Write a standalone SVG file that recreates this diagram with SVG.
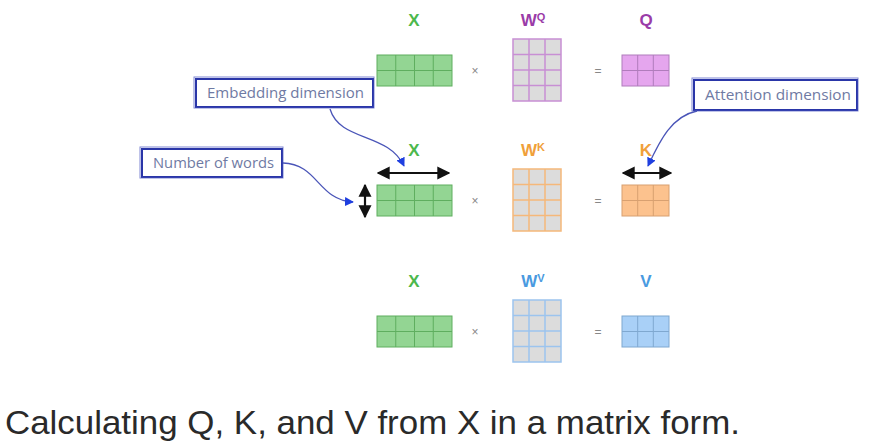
<svg xmlns="http://www.w3.org/2000/svg" width="881" height="444" viewBox="0 0 881 444">
<style>
.lbl{font-family:"Liberation Sans",Arial,sans-serif;font-weight:bold;font-size:17px;text-anchor:middle}
.sup{font-size:11px}
.op{font-family:"Liberation Sans",Arial,sans-serif;font-size:12px;fill:#888;text-anchor:middle}
.note{font-family:"Open Sans","Liberation Sans",sans-serif;font-size:15px;fill:#6f7aa3}
.box1{fill:#fff;stroke:#2a36a8;stroke-width:2}
.box2{fill:none;stroke:#4a55c0;stroke-width:1;opacity:0.7}
.g{stroke:#5fae5f;stroke-width:1;fill:none}
.conn{fill:none;stroke:#4a55b8;stroke-width:1.3}
.dbl{fill:none;stroke:#111;stroke-width:2.2}
</style>
<defs>
<marker id="blue" viewBox="0 0 10 10" refX="9" refY="5" markerWidth="9" markerHeight="9" markerUnits="userSpaceOnUse" orient="auto"><path d="M0,0 L10,5 L0,10 z" fill="#1f3fe0"/></marker>
<marker id="blk" viewBox="0 0 10 10" refX="9" refY="5" markerWidth="13" markerHeight="15" markerUnits="userSpaceOnUse" orient="auto-start-reverse"><path d="M0,0 L10,5 L0,10 z" fill="#111"/></marker>
</defs>

<!-- Row Q -->
<g id="row-q">
  <text class="lbl" x="414" y="26" fill="#4cb84c">X</text>
  <g id="xq"><rect x="377" y="55" width="75" height="31" fill="#93d593" stroke="#5fae5f"/><path class="g" d="M395.75,55V86M414.5,55V86M433.25,55V86M377,70.5H452"/></g>
  <text class="op" x="475" y="75">×</text>
  <text class="lbl" x="533" y="26" fill="#9a3ca8">W<tspan class="sup" dy="-5">Q</tspan></text>
  <g id="wq"><rect x="513" y="39" width="48" height="62" fill="#dcdcdc" stroke="#c88fd4" stroke-width="1.5"/><path d="M529,39V101M545,39V101M513,54.5H561M513,70H561M513,85.5H561" stroke="#c88fd4" stroke-width="1.5" fill="none"/></g>
  <text class="op" x="598" y="75">=</text>
  <text class="lbl" x="646" y="26" fill="#9a3ca8">Q</text>
  <g id="q"><rect x="622" y="55" width="47" height="31" fill="#e5a6ee" stroke="#b07cbc"/><path d="M637.7,55V86M653.3,55V86M622,70.5H669" stroke="#b07cbc" fill="none"/></g>
</g>

<!-- Row K -->
<g id="row-k">
  <text class="lbl" x="414" y="156" fill="#4cb84c">X</text>
  <g id="xk"><rect x="377" y="185" width="75" height="31" fill="#93d593" stroke="#5fae5f"/><path class="g" d="M395.75,185V216M414.5,185V216M433.25,185V216M377,200.5H452"/></g>
  <text class="op" x="475" y="205">×</text>
  <text class="lbl" x="533" y="156" fill="#f0a03a">W<tspan class="sup" dy="-5">K</tspan></text>
  <g id="wk"><rect x="513" y="169" width="48" height="62" fill="#dcdcdc" stroke="#f5b87a" stroke-width="1.5"/><path d="M529,169V231M545,169V231M513,184.5H561M513,200H561M513,215.5H561" stroke="#f5b87a" stroke-width="1.5" fill="none"/></g>
  <text class="op" x="598" y="205">=</text>
  <text class="lbl" x="646" y="156" fill="#f0a03a">K</text>
  <g id="k"><rect x="622" y="185" width="47" height="31" fill="#fcc28e" stroke="#d8a070"/><path d="M637.7,185V216M653.3,185V216M622,200.5H669" stroke="#d8a070" fill="none"/></g>
</g>

<!-- Row V -->
<g id="row-v">
  <text class="lbl" x="414" y="287" fill="#4cb84c">X</text>
  <g id="xv"><rect x="377" y="316" width="75" height="31" fill="#93d593" stroke="#5fae5f"/><path class="g" d="M395.75,316V347M414.5,316V347M433.25,316V347M377,331.5H452"/></g>
  <text class="op" x="475" y="336">×</text>
  <text class="lbl" x="533" y="287" fill="#4a9ae0">W<tspan class="sup" dy="-5">V</tspan></text>
  <g id="wv"><rect x="513" y="300" width="48" height="62" fill="#dcdcdc" stroke="#9cc4ee" stroke-width="1.5"/><path d="M529,300V362M545,300V362M513,315.5H561M513,331H561M513,346.5H561" stroke="#9cc4ee" stroke-width="1.5" fill="none"/></g>
  <text class="op" x="598" y="336">=</text>
  <text class="lbl" x="646" y="287" fill="#4a9ae0">V</text>
  <g id="v"><rect x="622" y="316" width="47" height="31" fill="#a9d0f7" stroke="#7fa8d0"/><path d="M637.7,316V347M653.3,316V347M622,331.5H669" stroke="#7fa8d0" fill="none"/></g>
</g>

<!-- Dimension arrows -->
<g id="dims">
  <path class="dbl" d="M378,173H449" marker-start="url(#blk)" marker-end="url(#blk)"/>
  <path class="dbl" d="M365,185V217" marker-start="url(#blk)" marker-end="url(#blk)"/>
  <path class="dbl" d="M623,173H671" marker-start="url(#blk)" marker-end="url(#blk)"/>
</g>

<!-- Callout boxes -->
<g id="note-embedding">
  <rect class="box1" x="196" y="79" width="177" height="28"/>
  <rect class="box2" x="194" y="77" width="180" height="31"/>
  <text class="note" x="207" y="98" textLength="157" lengthAdjust="spacingAndGlyphs">Embedding dimension</text>
</g>
<g id="note-words">
  <rect class="box1" x="142" y="149" width="140" height="28"/>
  <rect class="box2" x="140" y="147" width="143" height="31"/>
  <text class="note" x="153" y="168" textLength="121" lengthAdjust="spacingAndGlyphs">Number of words</text>
</g>
<g id="note-attention">
  <rect class="box1" x="694" y="80" width="163" height="30"/>
  <rect class="box2" x="692" y="78" width="166" height="33"/>
  <text class="note" x="705" y="100" textLength="146" lengthAdjust="spacingAndGlyphs">Attention dimension</text>
</g>

<!-- Connectors -->
<g id="connectors">
  <path class="conn" d="M330,109 C340,142 388,132 404,166" marker-end="url(#blue)"/>
  <path class="conn" d="M283,163 C318,164 318,200 353,202" marker-end="url(#blue)"/>
  <path class="conn" d="M697,111 C672,116 660,140 648,166" marker-end="url(#blue)"/>
</g>

<text x="5" y="434" font-family="Liberation Sans, Arial, sans-serif" font-size="34" fill="#2a2a2a" textLength="735" lengthAdjust="spacingAndGlyphs">Calculating Q, K, and V from X in a matrix form.</text>
</svg>
